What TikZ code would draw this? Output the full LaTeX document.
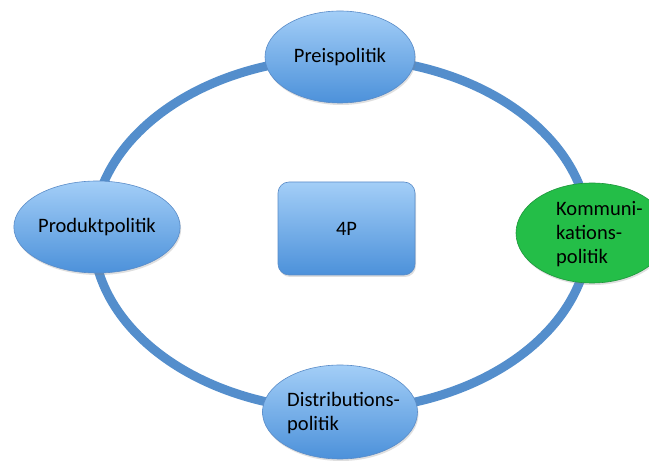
\documentclass[tikz,border=0pt]{standalone}
\usepackage{fontspec}
\setmainfont{Carlito}
\usetikzlibrary{shapes.geometric,shadows}
\definecolor{ringblue}{RGB}{84,142,204}
\definecolor{lightblue}{RGB}{163,206,247}
\definecolor{midblue}{RGB}{76,145,218}
\definecolor{edgeblue}{RGB}{90,140,200}
\definecolor{kgreen}{RGB}{36,190,72}
\definecolor{kgreenedge}{RGB}{30,150,60}
\tikzset{
  labelfont/.style={font=\fontsize{20.5}{24}\selectfont},
  bluenode/.style={ellipse, draw=edgeblue, line width=0.6pt, top color=lightblue, bottom color=midblue,
    labelfont, inner sep=0pt,
    drop shadow={shadow xshift=1pt, shadow yshift=-2pt, opacity=0.25}},
  greennode/.style={ellipse, draw=kgreenedge, line width=0.6pt, fill=kgreen,
    labelfont, inner sep=0pt,
    drop shadow={shadow xshift=1pt, shadow yshift=-2pt, opacity=0.25}},
  centerbox/.style={rectangle, rounded corners=11pt, draw=edgeblue, line width=0.6pt,
    top color=lightblue, bottom color=midblue, labelfont,
    drop shadow={shadow xshift=1pt, shadow yshift=-2pt, opacity=0.25}},
  ring/.style={draw=ringblue, line width=9pt}
}
\begin{document}
\begin{tikzpicture}[x=1pt,y=1pt]
\useasboundingbox (0,0) rectangle (649,466);
\fill[white] (0,0) rectangle (649,466);
\begin{scope}
\clip (0,0) rectangle (649,466);
\draw[ring] (341,232) ellipse [x radius=248, y radius=176];
\node[bluenode, minimum width=150pt, minimum height=92pt] (pre) at (340,409) {Preispolitik};
\node[bluenode, minimum width=165pt, minimum height=92pt] (prod) at (97,239) {Produktpolitik};
\node[greennode, minimum width=152pt, minimum height=100pt] (kom) at (592,233) {};
\node[labelfont, align=left, anchor=west, inner sep=0pt] (komtext) at (556,232) {Kommuni-\\kations-\\politik};
\node[bluenode, minimum width=155pt, minimum height=94pt] (dist) at (340,54) {};
\node[labelfont, align=left, anchor=west, inner sep=0pt] (disttext) at (287,53) {Distributions-\\politik};
\node[centerbox, minimum width=137pt, minimum height=93pt] (p4) at (346.5,237.5) {4P};
\end{scope}
\end{tikzpicture}
\end{document}
